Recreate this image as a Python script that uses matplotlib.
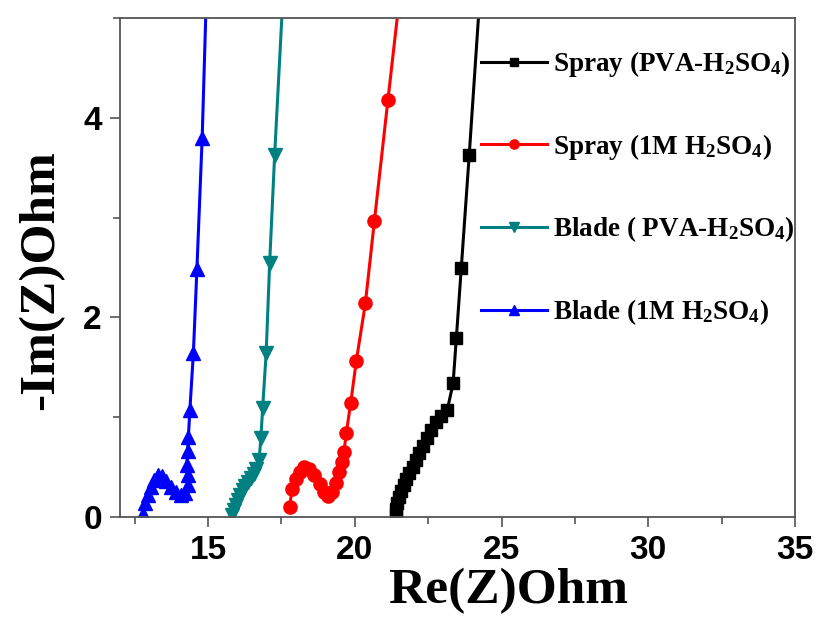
import matplotlib
matplotlib.use("Agg")
import matplotlib.pyplot as plt
from matplotlib.ticker import MultipleLocator

plt.rcParams['mathtext.default'] = 'regular'

black_x = [21.40, 21.41, 21.44, 21.50, 21.58, 21.67, 21.76, 21.86, 21.97, 22.09, 22.20, 22.32, 22.45, 22.60, 22.77, 22.95, 23.15, 23.35, 23.46, 23.63, 23.90, 24.35]
black_y = [0.02, 0.08, 0.14, 0.20, 0.26, 0.32, 0.38, 0.44, 0.50, 0.57, 0.64, 0.71, 0.79, 0.87, 0.95, 1.01, 1.07, 1.34, 1.79, 2.50, 3.63, 5.6]

red_x = [17.78, 17.86, 17.98, 18.12, 18.28, 18.45, 18.62, 18.80, 18.96, 19.10, 19.24, 19.36, 19.46, 19.55, 19.63, 19.71, 19.86, 20.05, 20.36, 20.67, 21.13, 21.60]
red_y = [0.10, 0.28, 0.38, 0.45, 0.50, 0.48, 0.42, 0.33, 0.25, 0.21, 0.25, 0.34, 0.45, 0.55, 0.65, 0.84, 1.14, 1.56, 2.14, 2.97, 4.18, 5.4]

teal_x = [15.82, 15.88, 15.95, 16.02, 16.10, 16.18, 16.27, 16.36, 16.45, 16.55, 16.65, 16.74, 16.80, 16.86, 16.98, 17.10, 17.27, 17.62]
teal_y = [0.02, 0.07, 0.12, 0.17, 0.22, 0.27, 0.31, 0.35, 0.39, 0.43, 0.48, 0.57, 0.79, 1.09, 1.64, 2.55, 3.63, 5.6]

blue_x = [12.79, 12.85, 12.95, 13.05, 13.15, 13.28, 13.42, 13.58, 13.75, 13.92, 14.08, 14.22, 14.30, 14.30, 14.28, 14.30, 14.33, 14.38, 14.50, 14.62, 14.80, 14.98]
blue_y = [0.03, 0.14, 0.22, 0.30, 0.37, 0.42, 0.41, 0.36, 0.30, 0.25, 0.22, 0.24, 0.32, 0.42, 0.52, 0.66, 0.80, 1.07, 1.64, 2.48, 3.80, 5.6]

labels = ["Spray (PVA-H$_2$SO$_4$)", "Spray (1M H$_2$SO$_4$)",
          "Blade ( PVA-H$_2$SO$_4$)", "Blade (1M H$_2$SO$_4$)"]

fig = plt.figure(figsize=(8.22, 6.17), dpi=100)
ax = fig.add_axes([120/822, 1-517/617, (795-120)/822, (517-18)/617])

series = [
    (black_x, black_y, 'black', 's', 9),
    (red_x, red_y, '#ff0000', 'o', 9.5),
    (teal_x, teal_y, '#008080', 'v', 10),
    (blue_x, blue_y, '#0000ff', '^', 10),
]
for (x, y, c, m, ms), lab in zip(series, labels):
    ax.plot(x, y, color=c, marker=m, markersize=ms, linewidth=2.2, label=lab, clip_on=True)

ax.set_xlim(12, 35)
ax.set_ylim(0, 5)
ax.xaxis.set_major_locator(MultipleLocator(5))
ax.xaxis.set_minor_locator(MultipleLocator(2.5))
ax.yaxis.set_major_locator(MultipleLocator(2))
ax.yaxis.set_minor_locator(MultipleLocator(1))
ax.tick_params(which='both', direction='out', top=False, right=False, color='#555555')
ax.tick_params(which='major', length=7, width=1.2, pad=6)
ax.tick_params(which='minor', length=5, width=1.2)
for sp in ax.spines.values():
    sp.set_color('#555555')
    sp.set_linewidth(1.3)

for lab in ax.get_xticklabels() + ax.get_yticklabels():
    lab.set_fontfamily('Liberation Sans')
    lab.set_fontweight('bold')
    lab.set_fontsize(24)

ax.set_xlabel('Re(Z)Ohm', fontfamily='Liberation Serif', fontweight='bold', fontsize=37)
ax.set_ylabel('-Im(Z)Ohm', fontfamily='Liberation Serif', fontweight='bold', fontsize=37)
ax.xaxis.set_label_coords((508-120)/675, -0.102, transform=ax.transAxes)
ax.yaxis.set_label_coords(-0.083, (517-280)/499, transform=ax.transAxes)

leg = ax.legend(loc='upper left', bbox_to_anchor=(481/822, 1-49/617), bbox_transform=fig.transFigure,
                frameon=False, handlelength=2.45, handletextpad=0.2, labelspacing=1.95,
                borderpad=0, borderaxespad=0, markerscale=0.7,
                prop={'family': 'Liberation Serif', 'weight': 'bold', 'size': 19.5})

fig.savefig('out.png', dpi=100)
